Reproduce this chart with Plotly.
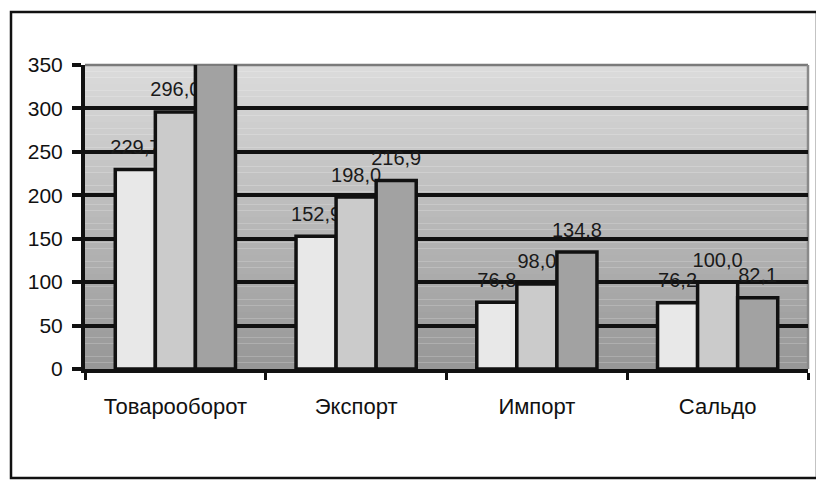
import plotly.graph_objects as go

categories = ["Товарооборот", "Экспорт", "Импорт", "Сальдо"]
series_a = [229.7, 152.9, 76.8, 76.2]
series_b = [296.0, 198.0, 98.0, 100.0]
series_c = [351.7, 216.9, 134.8, 82.1]
y_ticks = [0, 50, 100, 150, 200, 250, 300, 350]

colors = ["#e8e8e8", "#cbcbcb", "#a2a2a2"]
FONT = "Liberation Sans, Arial"

def lab(v):
    # label text (comma decimal); a tiny blank second line lifts the label off the bar top
    return [f"<span style='font-size:20px'>{x:.1f}</span><br>&nbsp;".replace(".", ",") for x in v]

fig = go.Figure()
for vals, col in zip([series_a, series_b, series_c], colors):
    fig.add_trace(go.Bar(
        x=categories, y=vals, marker=dict(color=col, line=dict(color="#111111", width=3.5)),
        text=lab(vals), textposition="outside", cliponaxis=True, constraintext="none",
        textfont=dict(family=FONT, size=8, color="#1a1a1a"),
        showlegend=False,
    ))

# plot area: x 85..808, y 65..369 (page px)
PL, PR, PT, PB = 85, 808, 65, 369
W, H = 816, 481
pw, ph = PR - PL, PB - PT

def px(x):
    return (x - PL) / pw

def py(y):
    return (PB - y) / ph

shapes = []
n = 48
for i in range(n):
    t = (i + 0.5) / n  # 0 bottom .. 1 top
    g = int(round(150 + (220 - 150) * t))
    shapes.append(dict(type="rect", xref="paper", yref="paper",
                       x0=0, x1=1, y0=i / n, y1=(i + 1) / n,
                       fillcolor=f"rgb({g},{g},{g})", line=dict(width=0), layer="below"))
shapes.append(dict(type="line", xref="paper", yref="paper", x0=0, x1=1, y0=1, y1=1,
                   line=dict(color="#7a7a7a", width=2.5), layer="below"))
shapes.append(dict(type="line", xref="paper", yref="paper", x0=1, x1=1, y0=0, y1=1,
                   line=dict(color="#8a8a8a", width=2.5), layer="below"))
shapes.append(dict(type="rect", xref="paper", yref="paper",
                   x0=px(11), x1=px(817), y0=py(478), y1=py(12),
                   line=dict(color="#111111", width=2.5), fillcolor="rgba(0,0,0,0)", layer="above"))

fig.update_layout(
    width=W, height=H,
    margin=dict(l=PL, r=W - PR, t=PT, b=H - PB),
    paper_bgcolor="white", plot_bgcolor="rgba(0,0,0,0)",
    barmode="group", bargap=0.335, bargroupgap=0,
    shapes=shapes,
    font=dict(family=FONT, size=20, color="#111111"),
)
fig.update_yaxes(range=[0, 350], tickvals=y_ticks, showgrid=True, gridcolor="#111111", gridwidth=4,
                 showline=True, linecolor="#111111", linewidth=4, ticks="outside", ticklen=9,
                 tickwidth=4, tickcolor="#111111", zeroline=False,
                 tickfont=dict(size=21), ticklabelstandoff=5)
fig.update_xaxes(showline=True, linecolor="#111111", linewidth=4, ticks="outside", ticklen=7,
                 tickwidth=3, tickcolor="#111111", tickson="boundaries",
                 tickfont=dict(size=22), ticklabelstandoff=15)

fig.write_html("out.html", config={"displayModeBar": False},
               post_script="document.body.style.margin='0';document.body.style.overflow='hidden';")
